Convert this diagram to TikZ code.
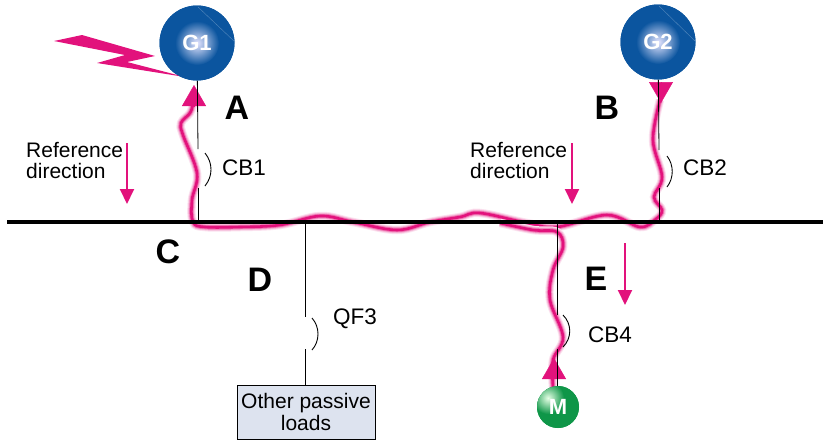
\documentclass[tikz,border=0pt]{standalone}
\usepackage{fontspec}
\setmainfont{Liberation Sans}
\usetikzlibrary{arrows.meta,positioning,calc}
\definecolor{flowpink}{HTML}{E2127C}
\definecolor{genblue}{HTML}{0B559F}
\definecolor{motorgreen}{HTML}{0F9648}
\definecolor{loadblue}{HTML}{DDE3EF}

\begin{document}
\begin{tikzpicture}[x=1pt,y=-1pt]
		\tikzstyle{gen}=[circle, minimum size = 75pt, inner sep = 0pt, fill = genblue]
		\tikzstyle{genglow}=[circle, minimum size = 44pt, inner sep = 0pt, inner color = blue!10!white, outer color = genblue, text = white, font = \fontsize{22}{22}\selectfont\bfseries]
		\tikzstyle{wire}=[line width = 0.8pt, black]
		\tikzstyle{breaker}=[line width = 0.9pt, black]
		\tikzstyle{bus}=[line width = 3.6pt, black]
		\tikzstyle{fault}=[line width = 2.6pt, flowpink, line join = round, preaction = {draw, flowpink!12, line width = 8.5pt}, preaction = {draw, flowpink!30, line width = 6.5pt}, preaction = {draw, flowpink!60, line width = 4.5pt}]
		\tikzstyle{flowtip}=[draw = flowpink, fill = flowpink, line width = 0.5pt, -{Triangle[length = 21pt, width = 24pt]}]
		\tikzstyle{refarrow}=[draw = flowpink, line width = 2pt, -{Triangle[length = 15pt, width = 14pt]}]
		\tikzstyle{txt}=[font = \fontsize{21}{21.5}\selectfont, align = left, inner sep = 0pt]
		\tikzstyle{cbtxt}=[font = \fontsize{22.5}{23}\selectfont, inner sep = 0pt]
		\tikzstyle{letter}=[font = \fontsize{34}{34}\selectfont\bfseries, inner sep = 0pt]
		\useasboundingbox (0,0) rectangle (823,440);

		\node[gen] (g1) at (197,43) {};
		\node[gen] (g2) at (658,42) {};
		\node[circle, minimum size = 42pt, inner sep = 0pt, fill = motorgreen] (m) at (558,407) {};
		\node[draw = black, line width = 0.9pt, fill = loadblue, minimum width = 138pt, minimum height = 54pt, inner sep = 0pt, align = center, font = \fontsize{21}{22}\selectfont] (load) at (306,412) {Other passive\\loads};

		\coordinate (busl) at (7,222);
		\coordinate (busr) at (823,222);
		\coordinate (tap1) at (198,222);
		\coordinate (tap2) at (659,222);
		\coordinate (tap3) at (305,222);
		\coordinate (tap4) at (557,222);

		\coordinate (cb1a) at (198,149);
		\coordinate (cb1b) at (198,188);
		\coordinate (cb2a) at (659,150);
		\coordinate (cb2b) at (659,188);
		\coordinate (qf3a) at (305,317);
		\coordinate (qf3b) at (305,349);
		\coordinate (cb4a) at (557,315);
		\coordinate (cb4b) at (557,349);

		% lightning
		\fill[flowpink] (54,41) -- (82,35) -- (155,56) -- (127,62) -- (185,77) -- (97,63) -- (125,55) -- cycle;

		% fault current
		\draw[fault] plot[smooth, tension = 0.6] coordinates {(193,104) (190,113) (181,123) (183,135) (197,173) (192,200) (193,222) (205,227) (240,227) (280,225) (320,216) (353,222) (397,230) (430,222) (460,217) (480,213) (527,223) (557,227) (607,215) (640,227) (656,219) (662,210) (654,197) (662,177) (653,140) (660,100)};
		\draw[fault] plot[smooth, tension = 0.6] coordinates {(500,223) (533,230) (557,232) (563,247) (553,270) (550,300) (563,337) (553,360) (553,387)};

		\path[flowtip] (194,106) -- (194,85);
		\path[flowtip] (661,82) -- (661,103);
		\path[flowtip] (554,378) -- (554,358);

		\draw[bus] (busl) -- (busr);
		\draw[wire] (g1) -- (cb1a);
		\draw[wire] (cb1b) -- (tap1);
		\draw[wire] (g2) -- (cb2a);
		\draw[wire] (cb2b) -- (tap2);
		\draw[wire] (tap3) -- (qf3a);
		\draw[wire] (qf3b) -- (load.north -| qf3b);
		\draw[wire] (tap4) -- (cb4a);
		\draw[wire] (cb4b) -- (m.north -| cb4b);

		% machines drawn again over the wires
		\node[gen] (g1top) at (g1) {};
		\node[gen] (g2top) at (g2) {};
		\node[circle, minimum size = 42pt, inner sep = 0pt, fill = motorgreen] (mtop) at (m) {};
		\begin{scope}
			\clip (m) circle (21pt);
			\node[circle, minimum size = 32pt, inner color = green!10!white, outer color = motorgreen] (mglow) at (548,398) {};
		\end{scope}
		\node[genglow] (g1glow) at (g1) {G1};
		\node[genglow] (g2glow) at (g2) {G2};
		\node[text = white, inner sep = 0pt, font = \fontsize{22}{22}\selectfont\bfseries] (mlabel) at (m) {M};
		\draw[genblue!70!white, line width = 0.4pt] (198,7) -- (235,42);
		\draw[genblue!70!white, line width = 0.4pt] (659,6) -- (695,41);

		% breakers
		\draw[breaker] ($(cb1a)+(7,4)$) .. controls +(8,10) and +(8,-10) .. ($(cb1a)+(7,37)$);
		\draw[breaker] ($(cb2a)+(8,6)$) .. controls +(7,9) and +(7,-9) .. ($(cb2a)+(8,37)$);
		\draw[breaker] ($(qf3a)+(7,1)$) .. controls +(8,9) and +(8,-9) .. ($(qf3a)+(7,33)$);
		\draw[breaker] ($(cb4a)+(6,0)$) .. controls +(9,9) and +(9,-9) .. ($(cb4a)+(6,32)$);

		\node[cbtxt] (cb1) at (244,168) {CB1};
		\node[cbtxt] (cb2) at (705,168) {CB2};
		\node[cbtxt] (qf3) at (355,319) {QF3};
		\node[cbtxt] (cb4) at (610,335) {CB4};
		\node[txt, anchor = north west] (ref1) at (26,142) {Reference\\direction};
		\node[txt, anchor = north west] (ref2) at (470,142) {Reference\\direction};

		\node[letter] (a) at (237,108) {A};
		\node[letter] (b) at (607,108) {B};
		\node[letter] (c) at (168,252) {C};
		\node[letter] (d) at (260,280) {D};
		\node[letter] (e) at (596,279) {E};

		\coordinate (ra1) at (127,143);
		\coordinate (ra2) at (127,204);
		\coordinate (rb1) at (572,143);
		\coordinate (rb2) at (572,204);
		\coordinate (re1) at (625,243);
		\coordinate (re2) at (625,305);
		\draw[refarrow] (ra1) -- (ra2);
		\draw[refarrow] (rb1) -- (rb2);
		\draw[refarrow] (re1) -- (re2);
\end{tikzpicture}
\end{document}
